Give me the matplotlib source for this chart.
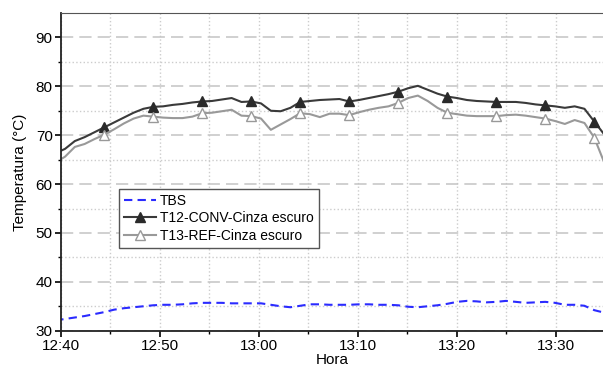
import matplotlib
matplotlib.use("Agg")
import matplotlib.pyplot as plt
import matplotlib.dates as mdates
import numpy as np
import pandas as pd

# leituras a cada ~59.4 s (registrador)
hora = pd.date_range("2000-01-01 12:39:25", periods=57, freq="59400ms")

tbs = [32.1, 32.4, 32.7, 33.0, 33.4, 33.8, 34.3, 34.6, 34.8, 35.0,
       35.2, 35.3, 35.3, 35.4, 35.6, 35.7, 35.7, 35.7, 35.6, 35.6,
       35.6, 35.6, 35.3, 35.0, 34.8, 35.1, 35.4, 35.4, 35.3, 35.3,
       35.3, 35.4, 35.4, 35.3, 35.3, 35.2, 34.9, 34.8, 35.0, 35.2,
       35.5, 35.9, 36.1, 36.0, 35.8, 35.9, 36.1, 35.9, 35.7, 35.8,
       35.9, 35.7, 35.3, 35.3, 35.1, 34.2, 33.7]

t12 = [66.3, 67.2, 68.8, 69.6, 70.6, 71.6, 72.6, 73.6, 74.6, 75.4,
       75.8, 75.9, 76.2, 76.4, 76.7, 76.9, 77.0, 77.3, 77.6, 76.8,
       76.9, 76.5, 75.0, 74.9, 75.6, 76.8, 77.0, 77.2, 77.3, 77.4,
       76.9, 77.2, 77.6, 78.0, 78.4, 78.9, 79.6, 80.1, 79.3, 78.5,
       77.9, 77.6, 77.2, 77.0, 76.9, 76.8, 76.8, 76.8, 76.6, 76.3,
       76.1, 75.9, 75.6, 75.9, 75.4, 72.8, 70.2]

t13 = [64.4, 65.6, 67.6, 68.2, 69.2, 70.1, 71.2, 72.4, 73.4, 74.0,
       73.8, 73.6, 73.5, 73.5, 73.8, 74.5, 74.6, 74.9, 75.2, 74.0,
       73.9, 73.4, 71.1, 72.2, 73.3, 74.5, 74.3, 73.7, 74.4, 74.4,
       74.1, 74.7, 75.2, 75.6, 75.9, 76.6, 77.6, 78.1, 77.0, 75.6,
       74.6, 74.3, 74.0, 73.9, 73.9, 73.9, 74.1, 74.2, 74.0, 73.7,
       73.4, 72.9, 72.3, 73.1, 72.5, 69.5, 64.5]

plt.rcParams['font.family'] = ['Liberation Sans', 'DejaVu Sans']

fig = plt.figure(figsize=(6.03, 3.67), dpi=100)
ax = fig.add_axes([61/603, 1-330.7/367, 1-61/603, (330.7-13)/367])

ax.plot(hora, tbs, color='#2b2bff', lw=1.5, ls=(0, (4, 2.5)), label='TBS')
ax.plot(hora, t12, color='#3a3a3a', lw=1.5, marker='^', ms=7,
        mfc='#2a2a2a', mec='#2a2a2a', markevery=slice(5, None, 5),
        label='T12-CONV-Cinza escuro')
ax.plot(hora, t13, color='#999999', lw=1.5, marker='^', ms=7,
        mfc='white', mec='#999999', markevery=slice(5, None, 5),
        label='T13-REF-Cinza escuro')

ax.set_xlim(pd.Timestamp("2000-01-01 12:40:00"), pd.Timestamp("2000-01-01 13:34:45"))
ax.set_ylim(30, 95)

ax.xaxis.set_major_locator(mdates.MinuteLocator(byminute=range(0, 60, 10)))
ax.xaxis.set_minor_locator(mdates.MinuteLocator(byminute=range(5, 60, 10)))
ax.xaxis.set_major_formatter(mdates.DateFormatter('%H:%M'))
ax.set_yticks([30, 40, 50, 60, 70, 80, 90])
ax.set_yticks([35, 45, 55, 65, 75, 85], minor=True)

ax.grid(which='major', axis='y', color='#c4c4c4', ls=(0, (8, 4)), lw=1.1)
ax.grid(which='minor', axis='y', color='#cccccc', ls=':', lw=1.0)
ax.grid(which='both', axis='x', color='#cccccc', ls=':', lw=1.0)
ax.set_axisbelow(True)

ax.tick_params(which='major', direction='out', length=4, width=1.2, labelsize=11, pad=2)
ax.tick_params(which='minor', direction='out', length=2.5, width=1.0)
for s in ['left', 'bottom']:
    ax.spines[s].set_color('#222222')
    ax.spines[s].set_linewidth(1.3)
ax.spines['top'].set_color('#555555')
ax.spines['right'].set_visible(False)

ax.set_ylabel('Temperatura (°C)', fontsize=11, labelpad=6)
ax.set_xlabel('Hora', fontsize=11, labelpad=0)

leg = ax.legend(loc='upper left', bbox_to_anchor=(0.107, 0.446), borderaxespad=0,
                fontsize=10, numpoints=1, handlelength=2.3, labelspacing=0.25,
                fancybox=False, framealpha=1, edgecolor='#555555',
                borderpad=0.35, handletextpad=0.3)
leg.get_frame().set_linewidth(1.0)

plt.savefig("out.png", dpi=100)
